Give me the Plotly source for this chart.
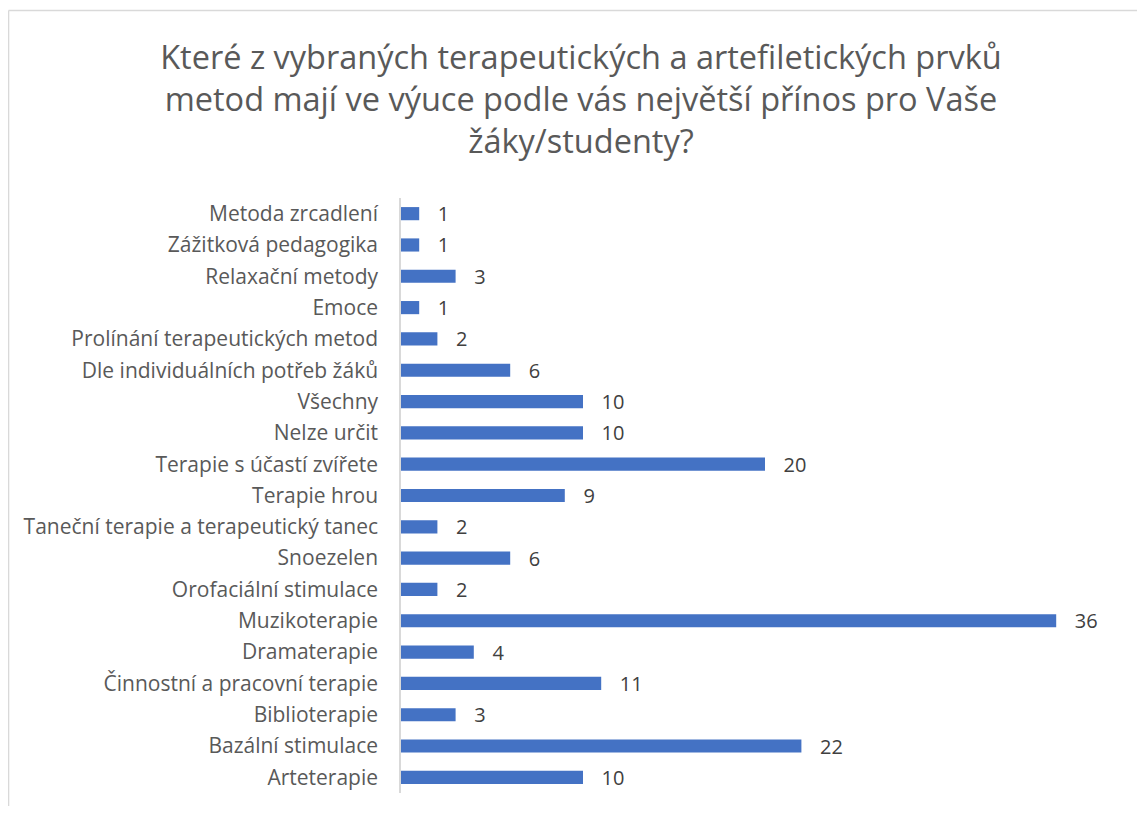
import plotly.graph_objects as go

categories = [
    "Arteterapie",
    "Bazální stimulace",
    "Biblioterapie",
    "Činnostní a pracovní terapie",
    "Dramaterapie",
    "Muzikoterapie",
    "Orofaciální stimulace",
    "Snoezelen",
    "Taneční terapie a terapeutický tanec",
    "Terapie hrou",
    "Terapie s účastí zvířete",
    "Nelze určit",
    "Všechny",
    "Dle individuálních potřeb žáků",
    "Prolínání terapeutických metod",
    "Emoce",
    "Relaxační metody",
    "Zážitková pedagogika",
    "Metoda zrcadlení",
]
values = [10, 22, 3, 11, 4, 36, 2, 6, 2, 9, 20, 10, 10, 6, 2, 1, 3, 1, 1]

title_text = ("Které z vybraných terapeutických a artefiletických prvků<br>"
              "metod mají ve výuce podle vás největší přínos pro Vaše<br>"
              "žáky/studenty?")

FONT = "Open Sans"

fig = go.Figure(
    go.Bar(
        x=values,
        y=categories,
        orientation="h",
        width=0.42,
        marker=dict(color="#4472C4", line=dict(width=0)),
        text=values,
        texttemplate="\u00a0\u00a0\u00a0%{x}",
        textposition="outside",
        constraintext="none",
        textfont=dict(family=FONT, size=20, color="#404040"),
        cliponaxis=False,
    )
)

fig.update_layout(
    width=1129,
    height=798,
    paper_bgcolor="white",
    plot_bgcolor="white",
    margin=dict(l=393, r=8, t=190, b=13),
    showlegend=False,
    title=dict(
        text=title_text,
        font=dict(family=FONT, size=32.5, color="#595959"),
        x=0.5075,
        xref="container",
        xanchor="center",
        y=0.9236,
        yref="container",
        yanchor="top",
    ),
    xaxis=dict(
        range=[0, 40],
        visible=False,
        showgrid=False,
        zeroline=False,
    ),
    yaxis=dict(
        showline=True,
        linecolor="#D9D9D9",
        linewidth=1.5,
        showgrid=False,
        ticks="",
        ticklabelstandoff=17,
        tickfont=dict(family=FONT, size=21, color="#595959"),
        automargin=False,
    ),
    shapes=[
        dict(type="line", xref="paper", yref="paper",
             x0=-0.5391, x1=-0.5391, y0=-0.1, y1=1.3151,
             line=dict(color="#D9D9D9", width=1.5)),
        dict(type="line", xref="paper", yref="paper",
             x0=-0.5391, x1=1.1, y0=1.3151, y1=1.3151,
             line=dict(color="#D9D9D9", width=1.5)),
    ],
)

fig.write_html("out.html")
